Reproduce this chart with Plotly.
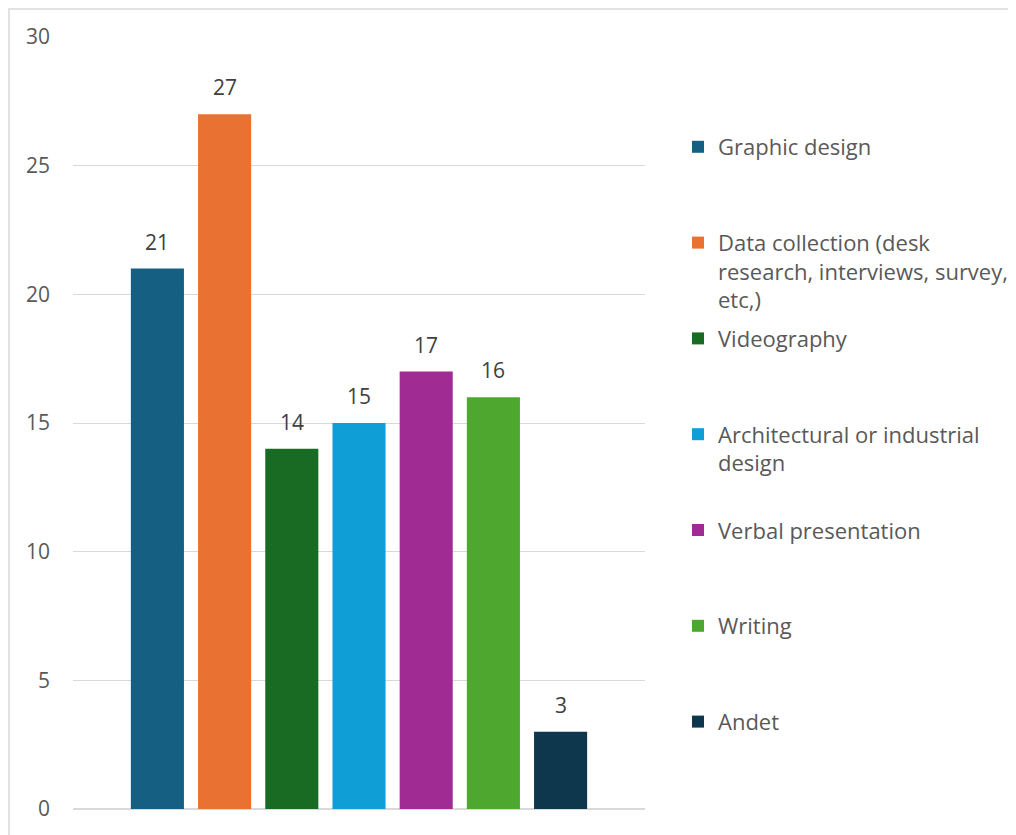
import plotly.graph_objects as go

categories = ["Graphic design",
              "Data collection (desk<br>research, interviews, survey,<br>etc,)",
              "Videography",
              "Architectural or industrial<br>design",
              "Verbal presentation",
              "Writing",
              "Andet"]
values = [21, 27, 14, 15, 17, 16, 3]
colors = ["#156082", "#E97132", "#196B24", "#0F9ED5", "#A02B93", "#4EA72E", "#0E374E"]
y_ticks = [0, 5, 10, 15, 20, 25, 30]

FONT = "Open Sans"
TXT = "#595959"

# page body offset of 8px: reference pixel p -> figure pixel p - 8
OFF = 8
W, H = 1016 - OFF, 835 - OFF
L, R, T, B = 73 - OFF, 645 - OFF, 37 - OFF, 809 - OFF
pw, ph = R - L, B - T

fig = go.Figure()
for i, (name, v, c) in enumerate(zip(categories, values, colors)):
    nlines = name.count("<br>") + 1
    label = name + "<br> " * (3 - nlines)
    fig.add_trace(go.Bar(x=[i], y=[v], name=label, marker=dict(color=c, line=dict(width=0)),
                         width=0.79, legendgroup=str(i), showlegend=True))
    fig.add_annotation(x=i, y=v, text=str(v), showarrow=False, yanchor="bottom", yshift=11,
                       font=dict(family=FONT, size=21, color="#404040"))

# chart-area border (top and left edges visible in the reference)
bx, by = 1.0, 1.0  # figure pixels
fig.add_shape(type="rect", xref="paper", yref="paper",
              x0=(bx - L) / pw, x1=(W + 30 - L) / pw,
              y0=-(H + 20 - B) / ph, y1=1 + (T - by) / ph,
              line=dict(color="#D9D9D9", width=1.5), fillcolor="rgba(0,0,0,0)", layer="below")

fig.update_layout(
    width=W, height=H,
    margin=dict(l=L, r=W - R, t=T, b=H - B, autoexpand=False),
    paper_bgcolor="white", plot_bgcolor="white",
    barmode="overlay",
    font=dict(family=FONT, color=TXT),
    xaxis=dict(range=[-1.256, 7.256], showticklabels=False, showgrid=False, zeroline=False,
               showline=False, ticks=""),
    yaxis=dict(range=[0, 30], tickvals=y_ticks, showgrid=True, gridcolor="#D9D9D9", gridwidth=1,
               zeroline=True, zerolinecolor="#D9D9D9", zerolinewidth=1.5,
               showline=False, ticks="", ticklabelstandoff=22,
               tickfont=dict(family=FONT, size=21, color=TXT)),
    legend=dict(x=(670 - L) / pw, xanchor="left", y=1 - (126 - OFF - T) / ph, yanchor="top",
                valign="top", font=dict(family=FONT, size=22, color=TXT),
                tracegroupgap=7, itemwidth=30, bgcolor="rgba(0,0,0,0)"),
    showlegend=True,
)

fig.write_html("out.html")
